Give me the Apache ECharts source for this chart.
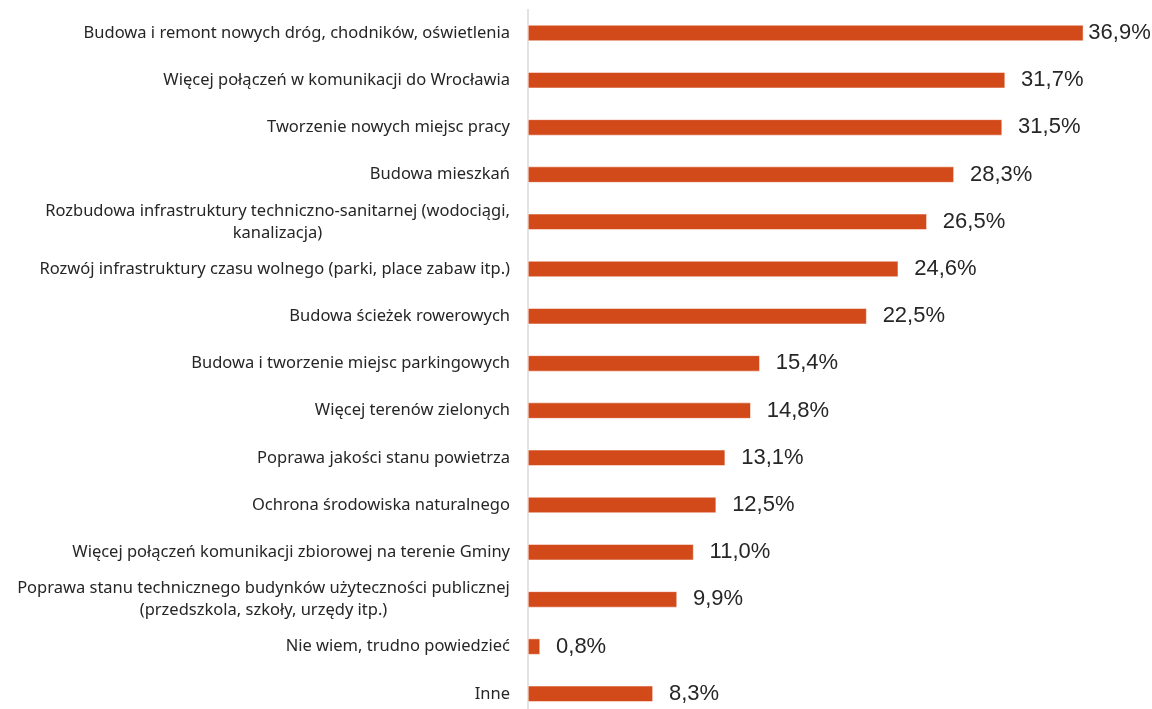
<!DOCTYPE html>
<html>
<head>
<meta charset="utf-8">
<script src="https://cdn.jsdelivr.net/npm/echarts@6/dist/echarts.min.js"></script>
<style>
  html, body { margin: 0; padding: 0; background: #fff; overflow: hidden; }
  #chart { width: 1152px; height: 718px; }
</style>
</head>
<body>
<div id="chart"></div>
<script>
const categories = [
  "Budowa i remont nowych dróg, chodników, oświetlenia",
  "Więcej połączeń w komunikacji do Wrocławia",
  "Tworzenie nowych miejsc pracy",
  "Budowa mieszkań",
  "Rozbudowa infrastruktury techniczno-sanitarnej (wodociągi,\nkanalizacja)",
  "Rozwój infrastruktury czasu wolnego (parki, place zabaw itp.)",
  "Budowa ścieżek rowerowych",
  "Budowa i tworzenie miejsc parkingowych",
  "Więcej terenów zielonych",
  "Poprawa jakości stanu powietrza",
  "Ochrona środowiska naturalnego",
  "Więcej połączeń komunikacji zbiorowej na terenie Gminy",
  "Poprawa stanu technicznego budynków użyteczności publicznej\n(przedszkola, szkoły, urzędy itp.)",
  "Nie wiem, trudno powiedzieć",
  "Inne"
];
const values = [36.9, 31.7, 31.5, 28.3, 26.5, 24.6, 22.5, 15.4, 14.8, 13.1, 12.5, 11.0, 9.9, 0.8, 8.3];

const labelFont = "16.5px 'Noto Sans'";

// measure the longest line so wrapped labels can be centred line by line
const ctx = document.createElement("canvas").getContext("2d");
ctx.font = labelFont;
const rich = {};
const richKey = {};
categories.forEach(function (c, i) {
  if (c.indexOf("\n") >= 0) {
    let w = 0;
    c.split("\n").forEach(function (line) {
      w = Math.max(w, ctx.measureText(line).width);
    });
    richKey[c] = "c" + i;
    rich["c" + i] = {
      align: "center",
      width: Math.ceil(w),
      color: "#262626",
      fontFamily: "Noto Sans",
      fontSize: 16.5,
      lineHeight: 22
    };
  }
});

const chart = echarts.init(document.getElementById("chart"));

const option = {
  animation: false,
  grid: {
    left: 528,
    right: 22,
    top: 9.4,
    height: 708
  },
  xAxis: {
    type: "value",
    min: 0,
    max: 40,
    show: false
  },
  yAxis: {
    type: "category",
    inverse: true,
    data: categories,
    axisLine: {
      show: true,
      lineStyle: { color: "#d9d9d9", width: 1.5 }
    },
    axisTick: { show: false },
    axisLabel: {
      margin: 18,
      color: "#262626",
      fontFamily: "Noto Sans",
      fontSize: 16.5,
      lineHeight: 22,
      formatter: function (value) {
        if (richKey[value]) {
          return "{" + richKey[value] + "|" + value + "}";
        }
        return value;
      },
      rich: rich
    }
  },
  series: [
    {
      type: "bar",
      barWidth: 16,
      data: values.map(function (v, i) {
        // first label sits close to the bar, as in the original
        if (i === 0) {
          return { value: v, label: { distance: 5 } };
        }
        return v;
      }),
      itemStyle: {
        color: "#d24a1a",
        borderColor: "#ffffff",
        borderWidth: 0.5
      },
      label: {
        show: true,
        position: "right",
        distance: 16,
        color: "#262626",
        fontFamily: "Liberation Sans",
        fontSize: 22,
        formatter: function (p) {
          return p.value.toFixed(1).replace(".", ",") + "%";
        }
      }
    }
  ]
};

chart.setOption(option);
</script>
</body>
</html>
